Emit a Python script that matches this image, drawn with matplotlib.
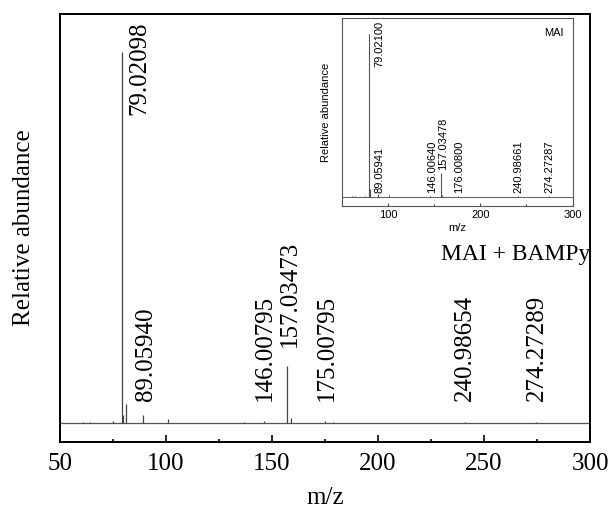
import matplotlib.pyplot as plt
from matplotlib.ticker import MultipleLocator

# MAI + BAMPy spectrum (m/z, relative abundance %)
mz_mix = [61.0, 64.2, 75.1, 79.02098, 79.9, 81.0, 89.05940, 101.1, 137.0,
          146.00795, 157.03473, 159.0, 175.00795, 178.8, 240.98654, 274.27289]
ab_mix = [0.3, 0.3, 0.5, 100, 2.2, 5.1, 2.2, 1.1, 0.3,
          0.6, 15.4, 1.3, 0.6, 0.3, 0.4, 0.4]

# labelled peaks of the mixture
lab_mix = ['79.02098', '89.05940', '146.00795', '157.03473', '175.00795',
           '240.98654', '274.27289']
lab_mix_mz = [79.02098, 89.05940, 146.00795, 157.03473, 175.00795,
              240.98654, 274.27289]

# MAI reference spectrum
mz_mai = [61.0, 64.2, 75.1, 79.02100, 80.0, 81.0, 89.05941, 101.1,
          146.00640, 157.03478, 159.0, 176.00800, 240.98661, 274.27287]
ab_mai = [0.3, 0.3, 0.4, 100, 3.5, 5.0, 2.0, 1.0,
          0.6, 14.4, 1.0, 0.6, 0.4, 0.4]
lab_mai = ['79.02100', '89.05941', '146.00640', '157.03478', '176.00800',
           '240.98661', '274.27287']
lab_mai_mz = [79.02100, 89.05941, 146.00640, 157.03478, 176.00800,
              240.98661, 274.27287]

serif = 'Liberation Serif'
sans = 'Liberation Sans'

fig = plt.figure(figsize=(6.14, 5.15), dpi=100)

# main spectrum
ax = fig.add_axes([0.0977, 0.1417, 0.8633, 0.8311])
ax.axhline(0, color='#555555', lw=0.9)
ax.vlines(mz_mix, 0, ab_mix, color='#444444', lw=0.9)
ax.set_xlim(50, 300)
ax.set_ylim(-5.1, 110.2)
ax.set_yticks([])
ax.xaxis.set_major_locator(MultipleLocator(50))
ax.xaxis.set_minor_locator(MultipleLocator(25))
ax.tick_params(axis='x', which='major', direction='in', length=5, width=1.2,
               labelsize=18, pad=8)
ax.tick_params(axis='x', which='minor', direction='in', length=2.5, width=1.2)
for lbl in ax.get_xticklabels():
    lbl.set_fontfamily(serif)
for s in ax.spines.values():
    s.set_linewidth(1.4)
ax.set_xlabel('m/z', fontsize=18, fontfamily=serif)
ax.xaxis.set_label_coords(0.5, -0.105)
ax.set_ylabel('Relative abundance', fontsize=18, fontfamily=serif)
ax.yaxis.set_label_coords(-0.048, 0.5)

# label offsets along x and label heights
dx_mix = [8.3, 1.5, 0.7, 1.5, 0.8, 0.0, 0.7]
y_mix = [83.0, 6.0, 6.0, 20.5, 6.0, 6.0, 6.0]
for t, m, d, yy in zip(lab_mix, lab_mix_mz, dx_mix, y_mix):
    ax.text(m + d, yy, t, rotation=90, ha='center', va='bottom',
            fontsize=18, fontfamily=serif)
ax.text(264.7, 45.3, 'MAI + BAMPy', ha='center', va='center',
        fontsize=17, fontfamily=serif)

# inset: MAI alone
ins = fig.add_axes([0.5565, 0.6006, 0.3762, 0.3639])
ins.axhline(0, color='#666666', lw=0.8)
ins.vlines(mz_mai, 0, ab_mai, color='#555555', lw=0.8)
ins.set_xlim(50, 300)
ins.set_ylim(-5.5, 109.9)
ins.set_yticks([])
ins.set_xticks([100, 200, 300])
ins.xaxis.set_minor_locator(MultipleLocator(50))
ins.tick_params(axis='x', which='major', direction='in', length=2.5,
                width=0.8, labelsize=8, pad=3, color='#444444')
ins.tick_params(axis='x', which='minor', direction='in', length=1.5,
                width=0.8, color='#444444')
for lbl in ins.get_xticklabels():
    lbl.set_fontfamily(sans)
for s in ins.spines.values():
    s.set_linewidth(0.8)
    s.set_color('#555555')
ins.set_xlabel('m/z', fontsize=8, fontfamily=sans, labelpad=2)
ins.set_ylabel('Relative abundance', fontsize=8, fontfamily=sans, labelpad=8)

dx_mai = [11.7, 1.6, 1.5, 3.0, 1.4, 0.3, 0.7]
y_mai = [79.9, 2.1, 2.1, 16.4, 2.1, 2.1, 2.1]
for t, m, d, yy in zip(lab_mai, lab_mai_mz, dx_mai, y_mai):
    ins.text(m + d, yy, t, rotation=90, ha='center', va='bottom',
             fontsize=8, fontfamily=sans)
ins.text(0.96, 0.92, 'MAI', transform=ins.transAxes, ha='right',
         va='center', fontsize=8, fontfamily=sans)

fig.savefig('out.png', dpi=100)
